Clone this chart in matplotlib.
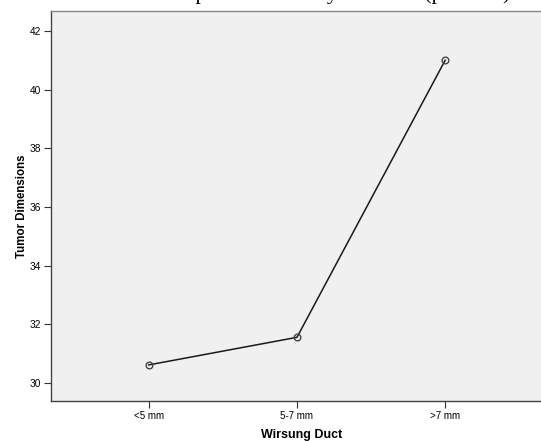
import matplotlib
matplotlib.use("Agg")
import matplotlib.pyplot as plt

categories = ["<5 mm", "5-7 mm", ">7 mm"]
tumor_means = [30.62, 31.56, 41.0]
y_ticks = [30, 32, 34, 36, 38, 40, 42]
title_text = 'Tumor dimension comparison made by duct size (p=0.001)'
title_prefix = 'Tumor dimension com'

plt.rcParams['font.family'] = ['Liberation Sans', 'DejaVu Sans']

fig = plt.figure(figsize=(5.41, 4.41), dpi=100)
ax = fig.add_axes([51/541, 1 - 401/441, 1.02 - 51/541, (401 - 11)/441])
ax.set_facecolor('#F0F0F0')

x = list(range(len(categories)))
ax.plot(x, tumor_means, color='#1a1a1a', lw=1.1, zorder=2)
ax.plot(x, tumor_means, ls='none', marker='o', ms=4.8, mfc='none',
        mec='#444444', mew=1.0, zorder=3)

ax.set_xlim(-0.66, 2.72)
ax.set_ylim(29.39, 42.68)
ax.set_xticks(x)
ax.set_xticklabels(categories, fontsize=7)
ax.set_yticks(y_ticks)
ax.set_yticklabels([str(v) for v in y_ticks], fontsize=7.3)
ax.tick_params(direction='out', length=5, width=0.8, color='#333333', pad=2)
ax.tick_params(axis='y', pad=2)

for s in ['left', 'bottom', 'top']:
    ax.spines[s].set_color('#444444')
    ax.spines[s].set_linewidth(1.0)
ax.spines['top'].set_color('#888888')
ax.spines['right'].set_visible(False)

ax.set_xlabel('Wirsung Duct', fontsize=9, fontweight='bold', labelpad=6)
ax.set_ylabel('Tumor Dimensions', fontsize=8.3, fontweight='bold', labelpad=1)

# partially visible (clipped) title above the frame
renderer = fig.canvas.get_renderer()
probe = fig.text(0, 0, title_prefix, family='Liberation Serif', fontsize=15.5)
pw = probe.get_window_extent(renderer).width
probe.remove()
fig.text((195 - pw) / 541, 1.0 + 0.5/441, title_text,
         family='Liberation Serif', fontsize=15.5, ha='left', va='baseline')

fig.savefig('out.png', dpi=100)
